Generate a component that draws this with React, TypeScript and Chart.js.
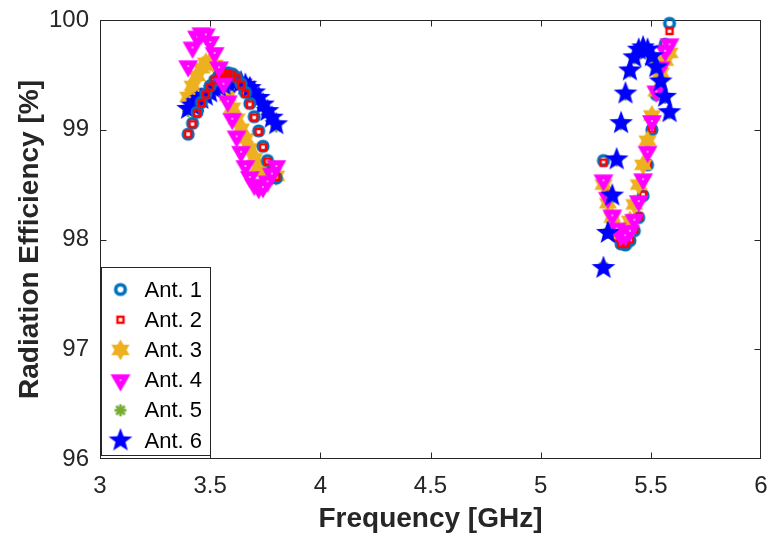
import React, { useEffect, useRef } from "react";
import { Chart, registerables } from "chart.js";

Chart.register(...registerables);

const FONT = '"Liberation Sans", Arial, Helvetica, sans-serif';

const X_TICKS = [3, 3.5, 4, 4.5, 5, 5.5, 6];
const Y_TICKS = [96, 97, 98, 99, 100];
const LEGEND_LABELS = ["Ant. 1", "Ant. 2", "Ant. 3", "Ant. 4", "Ant. 5", "Ant. 6"];

const FREQ_LOW = [3.40, 3.42, 3.44, 3.46, 3.48, 3.50, 3.52, 3.54, 3.56, 3.58, 3.60, 3.62, 3.64, 3.66, 3.68, 3.70, 3.72, 3.74, 3.76, 3.78, 3.80];
const FREQ_HIGH = [5.285, 5.305, 5.325, 5.345, 5.365, 5.385, 5.405, 5.425, 5.445, 5.465, 5.485, 5.505, 5.525, 5.545, 5.565, 5.585];

const ANT1_LOW = [98.96, 99.06, 99.16, 99.25, 99.33, 99.40, 99.45, 99.49, 99.51, 99.52, 99.51, 99.48, 99.42, 99.34, 99.24, 99.12, 98.99, 98.85, 98.72, 98.62, 98.56];
const ANT2_LOW = [98.96, 99.05, 99.15, 99.24, 99.32, 99.39, 99.45, 99.49, 99.51, 99.51, 99.50, 99.47, 99.41, 99.33, 99.23, 99.11, 98.98, 98.84, 98.71, 98.62, 98.57];
const ANT3_LOW = [99.30, 99.40, 99.49, 99.56, 99.61, 99.62, 99.59, 99.52, 99.42, 99.31, 99.20, 99.10, 99.01, 98.92, 98.83, 98.74, 98.67, 98.62, 98.59, 98.58, 98.58];
const ANT4_LOW = [99.58, 99.75, 99.85, 99.88, 99.87, 99.80, 99.70, 99.57, 99.42, 99.26, 99.10, 98.94, 98.80, 98.67, 98.57, 98.50, 98.47, 98.48, 98.53, 98.60, 98.67];
const ANT5_LOW = [99.17, 99.20, 99.23, 99.26, 99.29, 99.32, 99.35, 99.37, 99.39, 99.41, 99.42, 99.42, 99.41, 99.39, 99.36, 99.32, 99.27, 99.21, 99.15, 99.09, 99.03];
const ANT6_LOW = [99.19, 99.22, 99.25, 99.28, 99.31, 99.34, 99.37, 99.39, 99.41, 99.43, 99.44, 99.44, 99.43, 99.41, 99.38, 99.34, 99.29, 99.23, 99.17, 99.11, 99.05];

const ANT1_HIGH = [98.72, 98.42, 98.18, 98.03, 97.96, 97.95, 97.99, 98.08, 98.20, 98.40, 98.68, 99.00, 99.32, 99.58, 99.78, 99.97];
const ANT2_HIGH = [98.70, 98.41, 98.17, 98.02, 97.96, 97.96, 98.00, 98.09, 98.21, 98.41, 98.69, 99.01, 99.33, 99.56, 99.74, 99.90];
const ANT3_HIGH = [98.50, 98.33, 98.20, 98.10, 98.05, 98.08, 98.17, 98.32, 98.50, 98.68, 98.90, 99.13, 99.35, 99.52, 99.63, 99.70];
const ANT4_HIGH = [98.54, 98.38, 98.22, 98.10, 98.04, 98.04, 98.08, 98.18, 98.35, 98.55, 98.80, 99.08, 99.35, 99.57, 99.72, 99.78];
const ANT5_HIGH = [97.75, 98.06, 98.39, 98.72, 99.05, 99.32, 99.53, 99.65, 99.72, 99.74, 99.72, 99.66, 99.56, 99.44, 99.29, 99.15];
const ANT6_HIGH = [97.74, 98.06, 98.40, 98.73, 99.06, 99.33, 99.54, 99.66, 99.73, 99.75, 99.73, 99.67, 99.57, 99.44, 99.30, 99.16];

function makeMarker(size: number, draw: (ctx: CanvasRenderingContext2D) => void) {
  const c = document.createElement("canvas");
  c.width = size;
  c.height = size;
  const ctx = c.getContext("2d") as CanvasRenderingContext2D;
  ctx.translate(size / 2, size / 2);
  draw(ctx);
  return c;
}

function starPath(ctx: CanvasRenderingContext2D, n: number, rOut: number, rIn: number) {
  ctx.beginPath();
  for (let i = 0; i < 2 * n; i++) {
    const r = i % 2 === 0 ? rOut : rIn;
    const a = -Math.PI / 2 + (i * Math.PI) / n;
    const px = r * Math.cos(a);
    const py = r * Math.sin(a);
    if (i === 0) ctx.moveTo(px, py);
    else ctx.lineTo(px, py);
  }
  ctx.closePath();
}

function buildMarkers() {
  const circle = makeMarker(16, (ctx) => {
    ctx.beginPath();
    ctx.arc(0, 0, 4.8, 0, Math.PI * 2);
    ctx.strokeStyle = "#0072BD";
    ctx.lineWidth = 3.6;
    ctx.stroke();
  });
  const square = makeMarker(12, (ctx) => {
    ctx.strokeStyle = "#FF0000";
    ctx.lineWidth = 2.4;
    ctx.strokeRect(-3, -3, 6, 6);
  });
  const hexagram = makeMarker(24, (ctx) => {
    starPath(ctx, 6, 10.5, 10.5 / Math.sqrt(3));
    ctx.fillStyle = "#EDB120";
    ctx.fill();
  });
  const triangle = makeMarker(26, (ctx) => {
    const r = 11.5;
    ctx.beginPath();
    ctx.moveTo(0, r);
    ctx.lineTo(r * 0.866, -r / 2);
    ctx.lineTo(-r * 0.866, -r / 2);
    ctx.closePath();
    ctx.fillStyle = "#FF00FF";
    ctx.fill();
    ctx.beginPath();
    ctx.arc(0, 0, 1, 0, Math.PI * 2);
    ctx.fillStyle = "#ffc8ff";
    ctx.fill();
  });
  const asterisk = makeMarker(16, (ctx) => {
    ctx.strokeStyle = "#77AC30";
    ctx.lineWidth = 2.6;
    for (let k = 0; k < 4; k++) {
      const a = (k * Math.PI) / 4;
      ctx.beginPath();
      ctx.moveTo(-6 * Math.cos(a), -6 * Math.sin(a));
      ctx.lineTo(6 * Math.cos(a), 6 * Math.sin(a));
      ctx.stroke();
    }
    ctx.beginPath();
    ctx.arc(0, 0, 3.5, 0, Math.PI * 2);
    ctx.fillStyle = "#77AC30";
    ctx.fill();
  });
  const pentagram = makeMarker(28, (ctx) => {
    starPath(ctx, 5, 12.5, 5.2);
    ctx.fillStyle = "#0000FF";
    ctx.fill();
  });
  return [circle, square, hexagram, triangle, asterisk, pentagram];
}

export default function App() {
  const canvasRef = useRef<HTMLCanvasElement | null>(null);

  useEffect(() => {
    const canvas = canvasRef.current;
    if (!canvas) return;
    const markers = buildMarkers();

    const lows = [ANT1_LOW, ANT2_LOW, ANT3_LOW, ANT4_LOW, ANT5_LOW, ANT6_LOW];
    const highs = [ANT1_HIGH, ANT2_HIGH, ANT3_HIGH, ANT4_HIGH, ANT5_HIGH, ANT6_HIGH];

    // drawing sequence bottom -> top
    const lowSeq = [2, 4, 5, 0, 1, 3];
    const highSeq = [0, 1, 2, 3, 4, 5];
    const datasets: any[] = [];
    let seq = 0;
    const mk = (idx: number, freq: number[], vals: number[]) => {
      datasets.push({
        type: "scatter",
        label: LEGEND_LABELS[idx],
        data: freq.map((x, i) => ({ x, y: vals[i] })),
        pointStyle: markers[idx],
        pointRadius: 6,
        pointHoverRadius: 6,
        showLine: false,
        clip: false,
        order: 100 - seq,
      });
      seq++;
    };
    lowSeq.forEach((i) => mk(i, FREQ_LOW, lows[i]));
    highSeq.forEach((i) => mk(i, FREQ_HIGH, highs[i]));

    const axesBox = {
      id: "axesBox",
      beforeDatasetsDraw(chart: any) {
        const { ctx, chartArea: a, scales } = chart;
        ctx.save();
        ctx.strokeStyle = "#262626";
        ctx.lineWidth = 1;
        const L = Math.round(a.left) + 0.5;
        const R = Math.round(a.right) - 0.5;
        const T = Math.round(a.top) + 0.5;
        const B = Math.round(a.bottom) - 0.5;
        ctx.strokeRect(L, T, R - L, B - T);
        const tl = 6;
        ctx.beginPath();
        X_TICKS.forEach((v) => {
          const px = Math.round(scales.x.getPixelForValue(v)) + 0.5;
          if (px <= L + 1 || px >= R - 1) return;
          ctx.moveTo(px, B);
          ctx.lineTo(px, B - tl);
          ctx.moveTo(px, T);
          ctx.lineTo(px, T + tl);
        });
        Y_TICKS.forEach((v) => {
          const py = Math.round(scales.y.getPixelForValue(v)) + 0.5;
          if (py <= T + 1 || py >= B - 1) return;
          ctx.moveTo(L, py);
          ctx.lineTo(L + tl, py);
          ctx.moveTo(R, py);
          ctx.lineTo(R - tl, py);
        });
        ctx.stroke();
        ctx.restore();
      },
    };

    const legendBox = {
      id: "legendBox",
      afterDraw(chart: any) {
        const { ctx, chartArea: a } = chart;
        ctx.save();
        const x0 = Math.round(a.left) + 1.5;
        const y1 = Math.round(a.bottom) - 3.5;
        const w = 109;
        const h = 188;
        const y0 = y1 - h;
        ctx.fillStyle = "#ffffff";
        ctx.fillRect(x0, y0, w, h);
        ctx.strokeStyle = "#262626";
        ctx.lineWidth = 1;
        ctx.strokeRect(x0, y0, w, h);
        ctx.font = `22px ${FONT}`;
        ctx.fillStyle = "#000000";
        ctx.textBaseline = "middle";
        ctx.textAlign = "left";
        const rowH = 30.2;
        LEGEND_LABELS.forEach((lab, i) => {
          const cy = y0 + 22 + i * rowH;
          const m = markers[i];
          ctx.drawImage(m, x0 + 19 - m.width / 2, cy - m.height / 2);
          ctx.fillText(lab, x0 + 43, cy + 1);
        });
        ctx.restore();
      },
    };

    const chart = new Chart(canvas, {
      type: "scatter",
      data: { datasets },
      options: {
        responsive: false,
        animation: false,
        devicePixelRatio: 1,
        events: [],
        layout: { padding: { top: 20, right: 6, bottom: 0, left: 0 } },
        plugins: {
          legend: { display: false },
          tooltip: { enabled: false },
          title: { display: false },
        },
        scales: {
          x: {
            type: "linear",
            min: 3,
            max: 6,
            afterBuildTicks: (s: any) => {
              s.ticks = X_TICKS.map((v) => ({ value: v }));
            },
            afterFit: (s: any) => {
              s.height = 78;
              s.paddingLeft = 0;
              s.paddingRight = 0;
            },
            grid: { display: false, drawTicks: false },
            border: { display: false },
            ticks: {
              color: "#262626",
              font: { family: FONT, size: 24 },
              padding: 13,
              maxRotation: 0,
              autoSkip: false,
              callback: (v: any) => String(v),
            },
            title: {
              display: true,
              text: "Frequency [GHz]",
              color: "#262626",
              font: { family: FONT, size: 28, weight: "bold" },
              padding: { top: 0, bottom: 1 },
            },
          },
          y: {
            type: "linear",
            min: 96,
            max: 100,
            afterBuildTicks: (s: any) => {
              s.ticks = Y_TICKS.map((v) => ({ value: v }));
            },
            afterFit: (s: any) => {
              s.width = 100;
              s.paddingTop = 0;
              s.paddingBottom = 0;
            },
            grid: { display: false, drawTicks: false },
            border: { display: false },
            ticks: {
              color: "#262626",
              font: { family: FONT, size: 24 },
              padding: 11,
              autoSkip: false,
              callback: (v: any) => String(v),
            },
            title: {
              display: true,
              text: "Radiation Efficiency [%]",
              color: "#262626",
              font: { family: FONT, size: 28, weight: "bold" },
              padding: { top: 13, bottom: 0 },
            },
          },
        },
      },
      plugins: [axesBox, legendBox],
    } as any);

    return () => {
      chart.destroy();
    };
  }, []);

  return (
    <div style={{ position: "absolute", left: 0, top: 0, width: 768, height: 537, background: "#ffffff" }}>
      <canvas ref={canvasRef} width={768} height={537} style={{ width: 768, height: 537, display: "block" }} />
    </div>
  );
}
